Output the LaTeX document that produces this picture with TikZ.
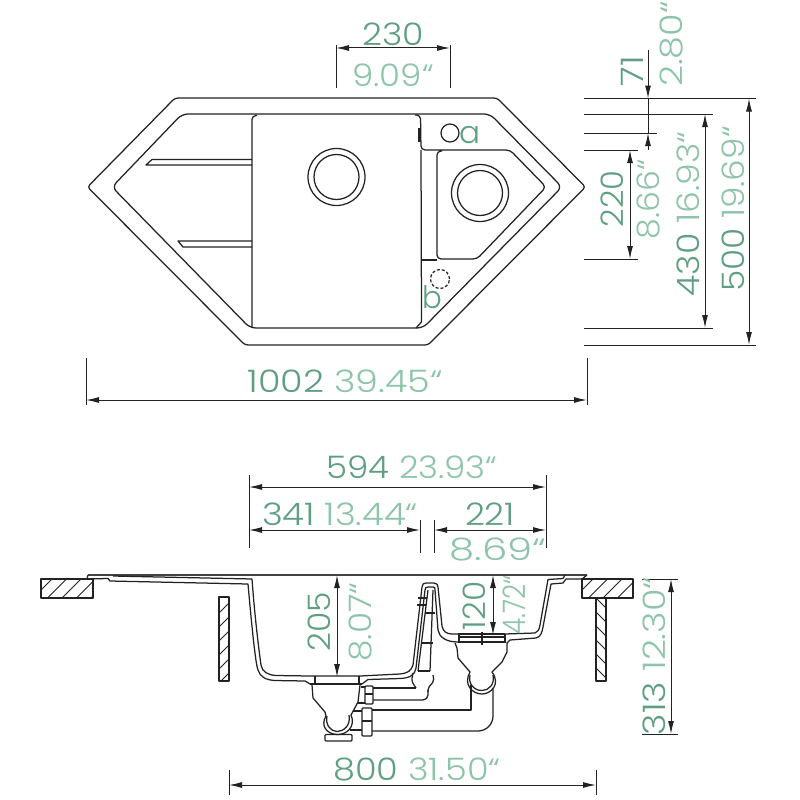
\documentclass[tikz,border=0pt]{standalone}
\usepackage{fontspec}
\setmainfont{Poppins Light}[FakeStretch=1.18]
\usetikzlibrary{arrows.meta,positioning}
\definecolor{mmgreen}{HTML}{5E9E82}
\definecolor{ingreen}{HTML}{8DC4AA}
\definecolor{ink}{HTML}{222222}
\newcommand{\mm}[1]{{\color{mmgreen}#1}}
\newcommand{\inch}[1]{{\color{ingreen}#1}}
\newcommand{\squeeze}[2]{\scalebox{#1}[1]{#2}}

\begin{document}
\begin{tikzpicture}[x=1pt,y=-1pt]
    \tikzstyle{outline}=[draw=ink,line width=1.25pt,line join=round]
    \tikzstyle{extline}=[draw=ink,line width=1pt]
    \tikzstyle{dim}=[draw=ink,line width=1pt,{Latex[length=13pt,width=6pt]}-{Latex[length=13pt,width=6pt]}]
    \tikzstyle{lbl}=[inner sep=0pt,font=\fontsize{31}{31}\selectfont]
    \tikzstyle{vlbl}=[lbl,rotate=90]
    \tikzstyle{hatch}=[draw=ink,line width=1pt]

    \path[use as bounding box,fill=white] (0,0) rectangle (800,800);

    % top view, rim and bowls
    \draw[outline,rounded corners=3pt] (175,98) -- (497,98) -- (585.5,187) -- (428,345) -- (245,345) -- (87.5,187) -- cycle;
    \draw[outline,rounded corners=6pt] (182,114) -- (490,114) -- (562,187) -- (423,328) -- (250,328) -- (112,187) -- cycle;
    \draw[outline,rounded corners=4pt] (257,115.5) -- (252,115.5) -- (252,328);
    \draw[outline,rounded corners=4pt] (415,115) -- (420.5,115) -- (421,150) -- (510,150) -- (546,187) -- (477,259) -- (437,259) -- (437,151) -- (442,151);
    \draw[outline] (421,150) -- (421.5,322) -- (416,328);
    \draw[outline] (421,260) -- (437,260);
    \draw[draw=ink,line width=2.5pt] (419.5,128) -- (419.5,142);
    \draw[outline] (252,159.5) -- (152,159.5) -- (146,165) -- (252,165);
    \draw[outline] (252,241) -- (178,241) -- (183,247) -- (252,247);
    \node[outline,circle,minimum size=57pt,inner sep=0pt] (holeL) at (336.5,177) {};
    \node[outline,circle,minimum size=45pt,inner sep=0pt] (drainL) at (336.5,177) {};
    \node[outline,circle,minimum size=57pt,inner sep=0pt] (holeR) at (480,193) {};
    \node[outline,circle,minimum size=45pt,inner sep=0pt] (drainR) at (480,193) {};
    \node[outline,circle,minimum size=18pt,inner sep=0pt] (tapA) at (450,133) {};
    \node[outline,circle,dash pattern=on 3pt off 2pt,minimum size=19pt,inner sep=0pt] (tapB) at (440,279) {};
    \node[lbl,anchor=base] (a) at (470,143) {\squeeze{0.85}{\mm{a}}};
    \node[lbl,anchor=base] (b) at (432,308) {\squeeze{0.8}{\mm{b}}};

    % top view, dimensions
    \coordinate (e1) at (336,45); \coordinate (e1b) at (336,88);
    \coordinate (e2) at (450,45); \coordinate (e2b) at (450,88);
    \path[extline] (e1) -- (e1b) (e2) -- (e2b);
    \coordinate (w1) at (336,48); \coordinate (w2) at (450,48);
    \path[dim] (w1) -- (w2);
    \node[lbl] (t230) at (393,34) {\squeeze{0.95}{\mm{230}}};
    \node[lbl] (t909) at (393,75) {\squeeze{0.93}{\inch{9.09“}}};

    \coordinate (e3) at (86,358); \coordinate (e3b) at (86,405);
    \coordinate (e4) at (587,358); \coordinate (e4b) at (587,405);
    \path[extline] (e3) -- (e3b) (e4) -- (e4b);
    \coordinate (w3) at (86,400); \coordinate (w4) at (587,400);
    \path[dim] (w3) -- (w4);
    \node[lbl] (t1002) at (345,381) {\mm{1002} \inch{39.45“}};

    \coordinate (r1) at (584,98.5); \coordinate (r1b) at (756,98.5);
    \coordinate (r2) at (584,114); \coordinate (r2b) at (713,114);
    \coordinate (r3) at (584,133); \coordinate (r3b) at (657,133);
    \coordinate (r4) at (584,150); \coordinate (r4b) at (638,150);
    \coordinate (r5) at (584,259); \coordinate (r5b) at (638,259);
    \coordinate (r6) at (584,328); \coordinate (r6b) at (713,328);
    \coordinate (r7) at (584,345); \coordinate (r7b) at (756,345);
    \path[extline] (r1) -- (r1b) (r2) -- (r2b) (r3) -- (r3b) (r4) -- (r4b) (r5) -- (r5b) (r6) -- (r6b) (r7) -- (r7b);
    \coordinate (h71a) at (648,50); \coordinate (h71b) at (648,98.5);
    \coordinate (h71c) at (648,133); \coordinate (h71d) at (648,150);
    \path[draw=ink,line width=1pt,-{Latex[length=13pt,width=6pt]}] (h71a) -- (h71b);
    \path[draw=ink,line width=1pt] (h71b) -- (h71c);
    \path[draw=ink,line width=1pt,-{Latex[length=13pt,width=6pt]}] (h71d) -- (h71c);
    \coordinate (h220a) at (630,150); \coordinate (h220b) at (630,259);
    \path[dim] (h220a) -- (h220b);
    \coordinate (h430a) at (705,114); \coordinate (h430b) at (705,328);
    \path[dim] (h430a) -- (h430b);
    \coordinate (h500a) at (749,98.5); \coordinate (h500b) at (749,345);
    \path[dim] (h500a) -- (h500b);
    \node[vlbl] (t71) at (632,71) {\mm{71}};
    \node[vlbl] (t280) at (672,44) {\inch{2.80“}};
    \node[vlbl] (t220) at (612,199) {\squeeze{0.88}{\mm{220}}};
    \node[vlbl] (t866) at (648,199) {\squeeze{0.91}{\inch{8.66“}}};
    \node[vlbl] (t430) at (688,214) {\squeeze{0.95}{\mm{430} \inch{16.93“}}};
    \node[vlbl] (t500) at (733,209) {\squeeze{0.94}{\mm{500} \inch{19.69“}}};

    % section, worktop and cabinet
    \draw[outline] (41,579) rectangle (93,598);
    \draw[outline] (582,579) rectangle (633,598);
    \draw[outline] (219,597) rectangle (229,681);
    \draw[outline] (596,598) rectangle (606,681);
    \begin{scope}
        \clip (41,579) rectangle (93,598);
        \foreach \i in {0,...,4} \draw[hatch] (31+\i*14.5,600) -- (55+\i*14.5,576);
    \end{scope}
    \begin{scope}
        \clip (582,579) rectangle (633,598);
        \foreach \i in {0,...,4} \draw[hatch] (572+\i*14.5,600) -- (596+\i*14.5,576);
    \end{scope}
    \begin{scope}
        \clip (219,597) rectangle (229,681);
        \foreach \i in {0,...,5} \draw[hatch] (217,615+\i*14) -- (231,601+\i*14);
    \end{scope}
    \begin{scope}
        \clip (596,598) rectangle (606,681);
        \foreach \i in {0,...,5} \draw[hatch] (594,596+\i*14) -- (608,610+\i*14);
    \end{scope}

    % section, sink
    \draw[draw=ink!85,line width=1.6pt] (88,575) -- (587,575);
    \draw[outline] (88,575) -- (87,579) -- (108,578.5) -- (110,581) -- (248,584) .. controls (253,640) and (256,665) .. (258,670) .. controls (260,677) and (266,680) .. (275,680.5) -- (305,681) -- (310,684);
    \draw[outline] (113,576) -- (252,579) .. controls (255,620) and (259,650) .. (261,665) .. controls (262,672) and (268,675) .. (276,675.5) -- (310,676);
    \draw[outline] (310,676) -- (360,676) -- (400,674) .. controls (408,673) and (411,671) .. (413,665) -- (422,587) .. controls (422,584) and (424,583) .. (426,583) -- (434,583) .. controls (437,583) and (438,585) .. (438,587) -- (442,626) .. controls (443,631) and (446,634) .. (452,634) -- (458,634);
    \draw[draw=ink,line width=2pt] (310,684) -- (362,684);
    \draw[outline] (315,676) -- (315,684) (359,676) -- (359,684);
    \draw[outline] (362,684) -- (368,679.5) -- (400,678.5) .. controls (410,678) and (415,675) .. (416,668) -- (425,590) .. controls (425,588) and (426,587) .. (428,587) -- (433,587) .. controls (435,587) and (435,588) .. (435,590) -- (438,630) .. controls (439,637) and (446,642) .. (458,642);
    % left drain and trap
    \draw[outline] (312,685) -- (313,698) -- (325,712) -- (326,716) .. controls (320,726) and (327,734) .. (337,734.5) .. controls (347,735) and (356,726) .. (351,715) -- (358,702) -- (360,685);
    \draw[outline] (327,716) .. controls (325,725) and (331,731.5) .. (337,731.5) .. controls (344,731.5) and (351,725) .. (349,715);
    \draw[outline,rounded corners=1pt] (325,734.5) rectangle (352,741);
    % overflow
    \draw[outline] (428,590) -- (418,671) (433,590) -- (430,671);
    \draw[outline] (418,598) -- (427,598) (417,605) -- (426,605) (425,613) -- (435,613) (422,643) -- (433,643) (418,671) -- (430,671);
    \draw[outline,rounded corners=2pt] (413,673) -- (411.5,681) -- (416,688) (433,675) -- (434,681) -- (428,688) -- (428,692);
    % waste pipes
    \draw[outline] (373,688) -- (416,688);
    \draw[outline,rounded corners=5pt] (373,700) -- (428,700) -- (428,690);
    \draw[outline,rounded corners=1pt] (365,686) rectangle (373,704);
    \draw[outline] (365,694) -- (373,694) (361,687) -- (365,687) (358,703) -- (365,703);
    \draw[outline,rounded corners=1pt] (362,708) rectangle (372,736);
    \draw[outline] (362,721) -- (372,721) (353,711) -- (362,711) (350,730) -- (362,730);
    \draw[outline] (372,710) -- (471,710) -- (471,685);
    \draw[outline,rounded corners=15pt] (372,731) -- (493,731) -- (493,688);
    % right drain and trap
    \draw[outline] (458,634) -- (505,634);
    \draw[draw=ink,line width=2pt] (458,642) -- (506,642);
    \draw[draw=ink,line width=1.6pt] (459,637) -- (505,637);
    \draw[outline] (459,634) -- (459,642) (505,634) -- (505,642) (482,632) -- (482,645);
    \draw[outline] (455,643) -- (457,648) -- (458,658) -- (470,672) .. controls (463,684) and (472,694) .. (482,694) .. controls (491,694) and (501,684) .. (492,672) -- (502,662) -- (507,652) -- (507,643) -- (510,640) -- (536,638) .. controls (541,637) and (542,632) .. (543,627) -- (551,584) -- (563,583) -- (566,579) -- (582,579) -- (587,575);
    \draw[outline] (505,634) -- (535,633) .. controls (538,632) and (539,630) .. (540,625) -- (548,579.5) -- (563,578.5) -- (565,575);
    \draw[outline] (470,675) .. controls (468,684) and (474,690.5) .. (482,690.5) .. controls (489,690.5) and (495,684) .. (493,675);

    % section, dimensions
    \coordinate (s1) at (249,475); \coordinate (s1b) at (249,548);
    \coordinate (s2) at (546,475); \coordinate (s2b) at (546,548);
    \coordinate (s3) at (420,520); \coordinate (s3b) at (420,553);
    \coordinate (s4) at (434,520); \coordinate (s4b) at (434,553);
    \path[extline] (s1) -- (s1b) (s2) -- (s2b) (s3) -- (s3b) (s4) -- (s4b);
    \coordinate (w594a) at (249,487); \coordinate (w594b) at (546,487);
    \path[dim] (w594a) -- (w594b);
    \coordinate (w341a) at (249,530); \coordinate (w341b) at (420,530);
    \path[dim] (w341a) -- (w341b);
    \coordinate (w221a) at (434,530); \coordinate (w221b) at (546,530);
    \path[dim] (w221a) -- (w221b);
    \node[lbl] (t594) at (412,467) {\squeeze{0.93}{\mm{594} \inch{23.93“}}};
    \node[lbl] (t341) at (340,514) {\squeeze{0.97}{\mm{341} \inch{13.44“}}};
    \node[lbl] (t221) at (490,514) {\squeeze{0.95}{\mm{221}}};
    \node[lbl] (t869) at (498,549) {\squeeze{1.1}{\inch{8.69“}}};

    \coordinate (s5) at (229,770); \coordinate (s5b) at (229,795);
    \coordinate (s6) at (596,770); \coordinate (s6b) at (596,795);
    \path[extline] (s5) -- (s5b) (s6) -- (s6b);
    \coordinate (w800a) at (229,785); \coordinate (w800b) at (596,785);
    \path[dim] (w800a) -- (w800b);
    \node[lbl] (t800) at (417,770) {\squeeze{0.96}{\mm{800} \inch{31.50“}}};

    \coordinate (h205a) at (337,575); \coordinate (h205b) at (337,677);
    \path[dim] (h205a) -- (h205b);
    \coordinate (h120a) at (493,575); \coordinate (h120b) at (493,635);
    \path[dim] (h120a) -- (h120b);
    \coordinate (s7) at (642,579); \coordinate (s7b) at (678,579);
    \coordinate (s8) at (642,734); \coordinate (s8b) at (678,734);
    \path[extline] (s7) -- (s7b) (s8) -- (s8b);
    \coordinate (h313a) at (671,579); \coordinate (h313b) at (671,734);
    \path[dim] (h313a) -- (h313b);
    \node[vlbl] (t205) at (319,622) {\squeeze{0.9}{\mm{205}}};
    \node[vlbl] (t807) at (361,622) {\squeeze{0.94}{\inch{8.07“}}};
    \node[vlbl] (t120) at (474,606) {\squeeze{0.9}{\mm{120}}};
    \node[vlbl] (t472) at (514,605) {\squeeze{0.72}{\inch{4.72“}}};
    \node[vlbl] (t313) at (654,656) {\mm{313} \inch{12.30“}};
\end{tikzpicture}
\end{document}
